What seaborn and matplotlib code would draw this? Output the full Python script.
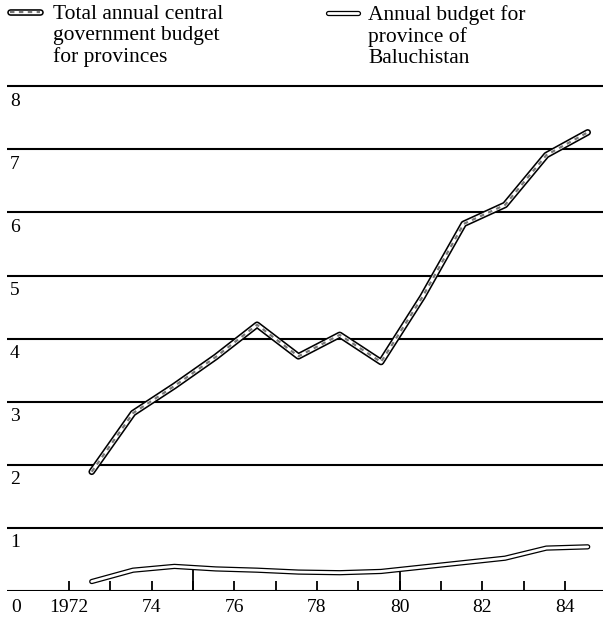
import matplotlib
matplotlib.use("Agg")
import matplotlib.pyplot as plt
from matplotlib.lines import Line2D
import seaborn as sns
import pandas as pd

# ---- data ----
years = [1972.55, 1973.55, 1974.55, 1975.55, 1976.55, 1977.55, 1978.55,
         1979.55, 1980.55, 1981.55, 1982.55, 1983.55, 1984.55]
total_budget = [1.89, 2.82, 3.25, 3.71, 4.22, 3.72, 4.06, 3.63, 4.66,
                5.82, 6.12, 6.91, 7.27]
baluchistan_budget = [0.15, 0.33, 0.39, 0.35, 0.33, 0.30, 0.29, 0.31,
                      0.38, 0.45, 0.52, 0.68, 0.70]
y_values = [1, 2, 3, 4, 5, 6, 7, 8]
x_label_years = [1972, 1974, 1976, 1978, 1980, 1982, 1984]
x_labels = ["1972", "74", "76", "78", "80", "82", "84"]
x_minor_years = [1973, 1975, 1977, 1979, 1981, 1983]
major_years = [1975, 1980]
legend_total = "Total annual central\ngovernment budget\nfor provinces"
legend_balu = "Annual budget for\nprovince of\nBaluchistan"

sns.set_style("white")
plt.rcParams["font.family"] = ["Liberation Serif", "DejaVu Serif"]
plt.rcParams["text.color"] = "black"
plt.rcParams["xtick.color"] = "black"
plt.rcParams["xtick.labelcolor"] = "black"

W, H = 603, 618
fig = plt.figure(figsize=(W / 100, H / 100), dpi=100)
ax_left, ax_right = 7 / W, 1.0
y0_px, y_top_px = 591, 80
ax = fig.add_axes([ax_left, (H - y0_px) / H, ax_right - ax_left, (y0_px - y_top_px) / H])
ax.set_xlim(1970.5, 1984.92)
ax.set_ylim(0, 8.1)
for s in ax.spines.values():
    s.set_visible(False)

# gridlines and baseline
for v in [0] + y_values:
    ax.axhline(v, color="black", lw=1.5, zorder=1)
for v in y_values:
    ax.text(1970.57, v - 0.1, str(v), ha="left", va="top", fontsize=14, color="black")
ax.text(1970.6, -0.12, "0", ha="left", va="top", fontsize=14, color="black")

ax.set_yticks([])
ax.set_xticks(x_label_years)
ax.set_xticklabels(x_labels, fontsize=14, color="black")
ax.set_xticks(x_minor_years, minor=True)
ax.tick_params(axis="x", which="both", direction="in", length=7.5, width=1.3,
               color="black", bottom=True, pad=6)
ax.vlines(major_years, 0, 0.33, color="black", lw=1.3, zorder=1)

df = pd.DataFrame({"year": years, "total": total_budget, "balu": baluchistan_budget})

# Baluchistan line: hollow
sns.lineplot(data=df, x="year", y="balu", ax=ax, color="black", lw=3.8,
             solid_capstyle="round", solid_joinstyle="round", zorder=3)
sns.lineplot(data=df, x="year", y="balu", ax=ax, color="white", lw=2.0,
             solid_capstyle="round", solid_joinstyle="round", zorder=4)
# Total line: hollow with dashed grey core
sns.lineplot(data=df, x="year", y="total", ax=ax, color="black", lw=4.8,
             solid_capstyle="round", solid_joinstyle="round", zorder=5)
sns.lineplot(data=df, x="year", y="total", ax=ax, color="white", lw=2.5,
             solid_capstyle="round", solid_joinstyle="round", zorder=6)
sns.lineplot(data=df, x="year", y="total", ax=ax, color="#777777", lw=1.6,
             dashes=False, zorder=7)
ax.lines[-1].set_linestyle((0, (2, 2)))
ax.set_xlabel("")
ax.set_ylabel("")

# legend (manual)
def swatch(x0, x1, y, dashed):
    xs = [x0 / W, x1 / W]
    ys = [1 - y / H, 1 - y / H]
    if dashed:
        fig.add_artist(Line2D(xs, ys, color="black", lw=4.8, solid_capstyle="round"))
        fig.add_artist(Line2D(xs, ys, color="white", lw=2.5, solid_capstyle="round"))
        fig.add_artist(Line2D(xs, ys, color="#777777", lw=1.6, linestyle=(0, (2, 2))))
    else:
        fig.add_artist(Line2D(xs, ys, color="black", lw=3.8, solid_capstyle="round"))
        fig.add_artist(Line2D(xs, ys, color="white", lw=2.0, solid_capstyle="round"))

swatch(10, 40, 12, True)
swatch(328, 358, 13, False)
fig.text(53 / W, 1 - 5 / H, legend_total, ha="left", va="top", fontsize=15.5,
         linespacing=1.13, color="black")
fig.text(368 / W, 1 - 5 / H, legend_balu, ha="left", va="top", fontsize=15.5,
         linespacing=1.13, color="black")

fig.savefig("out.png", dpi=100)
